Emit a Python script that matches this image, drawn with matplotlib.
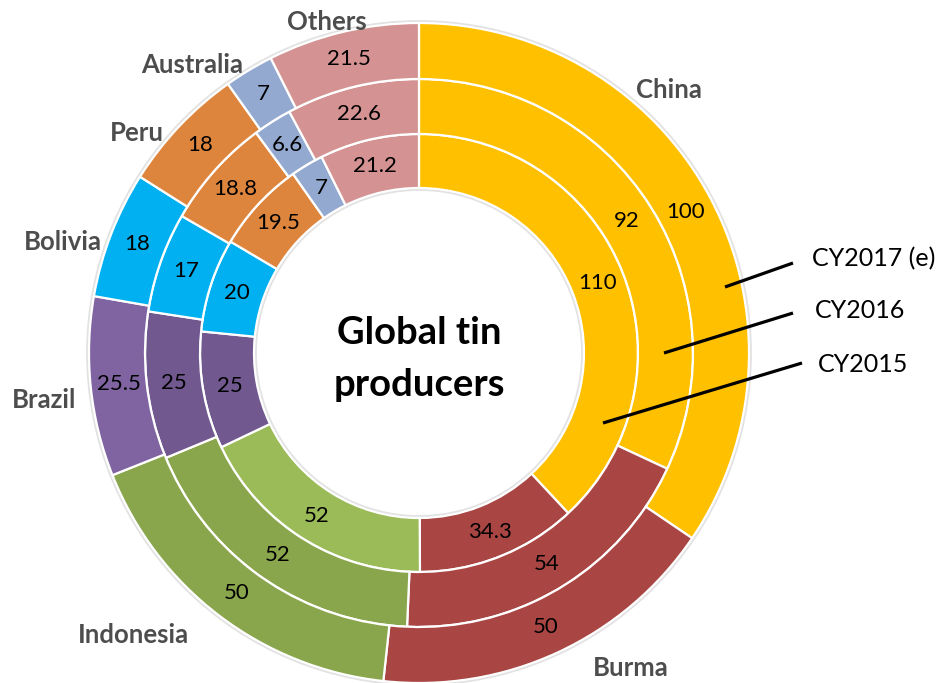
import numpy as np
import matplotlib.pyplot as plt
from matplotlib.patches import Circle

plt.rcParams['font.family'] = ['Lato', 'DejaVu Sans']

# data
countries = ["China", "Burma", "Indonesia", "Brazil", "Bolivia", "Peru", "Australia", "Others"]
cy2015 = [110, 34.3, 52, 25, 20, 19.5, 7, 21.2]
cy2016 = [92, 54, 52, 25, 17, 18.8, 6.6, 22.6]
cy2017 = [100, 50, 50, 25.5, 18, 18, 7, 21.5]
series_names = ["CY2015", "CY2016", "CY2017 (e)"]

# colours per ring (inner -> outer)
colors_2015 = ["#FFC000", "#A94644", "#9BBB59", "#71588F", "#00B0F0", "#DD853D", "#94A9D0", "#D49392"]
colors_2016 = ["#FFC000", "#A94644", "#8AA64C", "#71588F", "#00B0F0", "#DD853D", "#94A9D0", "#D49392"]
colors_2017 = ["#FFC000", "#A94644", "#8AA64C", "#8064A2", "#00B0F0", "#DD853D", "#94A9D0", "#D49392"]

W, H = 941, 683

def px(x, y):
    # pixel coords (top-left origin) -> data coords
    return x, H - y

fig = plt.figure(figsize=(W / 100, H / 100), dpi=100)
ax = fig.add_axes([0, 0, 1, 1])

cx, cy = px(419, 353)
ring_outer = [219, 274, 330]
ring_width = [54, 55, 56]

# faint shadow round the rings
ax.add_patch(Circle((cx, cy), 331.5, facecolor="none", edgecolor="#e2e2e2", lw=2, zorder=0))
ax.add_patch(Circle((cx, cy), 163.5, facecolor="none", edgecolor="#e2e2e2", lw=2, zorder=0))

rings = [(cy2015, colors_2015), (cy2016, colors_2016), (cy2017, colors_2017)]
for (vals, cols), r_out, w in zip(rings, ring_outer, ring_width):
    wedges, _ = ax.pie(vals, radius=r_out, colors=cols, startangle=90, counterclock=False,
                       center=(cx, cy),
                       wedgeprops=dict(width=w, edgecolor="white", linewidth=1.6))
    for wd, v in zip(wedges, vals):
        ang = np.deg2rad((wd.theta1 + wd.theta2) / 2)
        r = wd.r - wd.width / 2
        ax.text(cx + r * np.cos(ang), cy + r * np.sin(ang), f"{v:g}",
                ha="center", va="center", fontsize=16, color="black")

# category labels
label_pos = [(669, 90), (631, 668), (133, 635), (44, 400), (63, 242), (137, 133), (192, 65), (327, 22)]
for name, (x, y) in zip(countries, label_pos):
    ax.text(*px(x, y), name, ha="center", va="center", fontsize=18.5,
            fontweight="bold", color="#4d4d4d")

# centre title
ax.text(*px(419, 333), "Global tin", ha="center", va="center", fontsize=27.5, fontweight="bold")
ax.text(*px(419, 385), "producers", ha="center", va="center", fontsize=27.5, fontweight="bold")

# series callouts (inner -> outer)
line_from = [(603, 423), (664, 353), (725, 287)]
line_to = [(802, 363), (793, 313), (793, 263)]
text_at = [(818, 365), (815, 311), (812, 259)]
for name, p0, p1, pt in zip(series_names, line_from, line_to, text_at):
    ax.plot([px(*p0)[0], px(*p1)[0]], [px(*p0)[1], px(*p1)[1]], color="black", lw=2.3,
            solid_capstyle="butt")
    ax.text(*px(*pt), name, ha="left", va="center", fontsize=18, color="black")

ax.set_xlim(0, W)
ax.set_ylim(0, H)
ax.set_aspect("equal")
ax.axis("off")

fig.savefig("out.png", dpi=100)
